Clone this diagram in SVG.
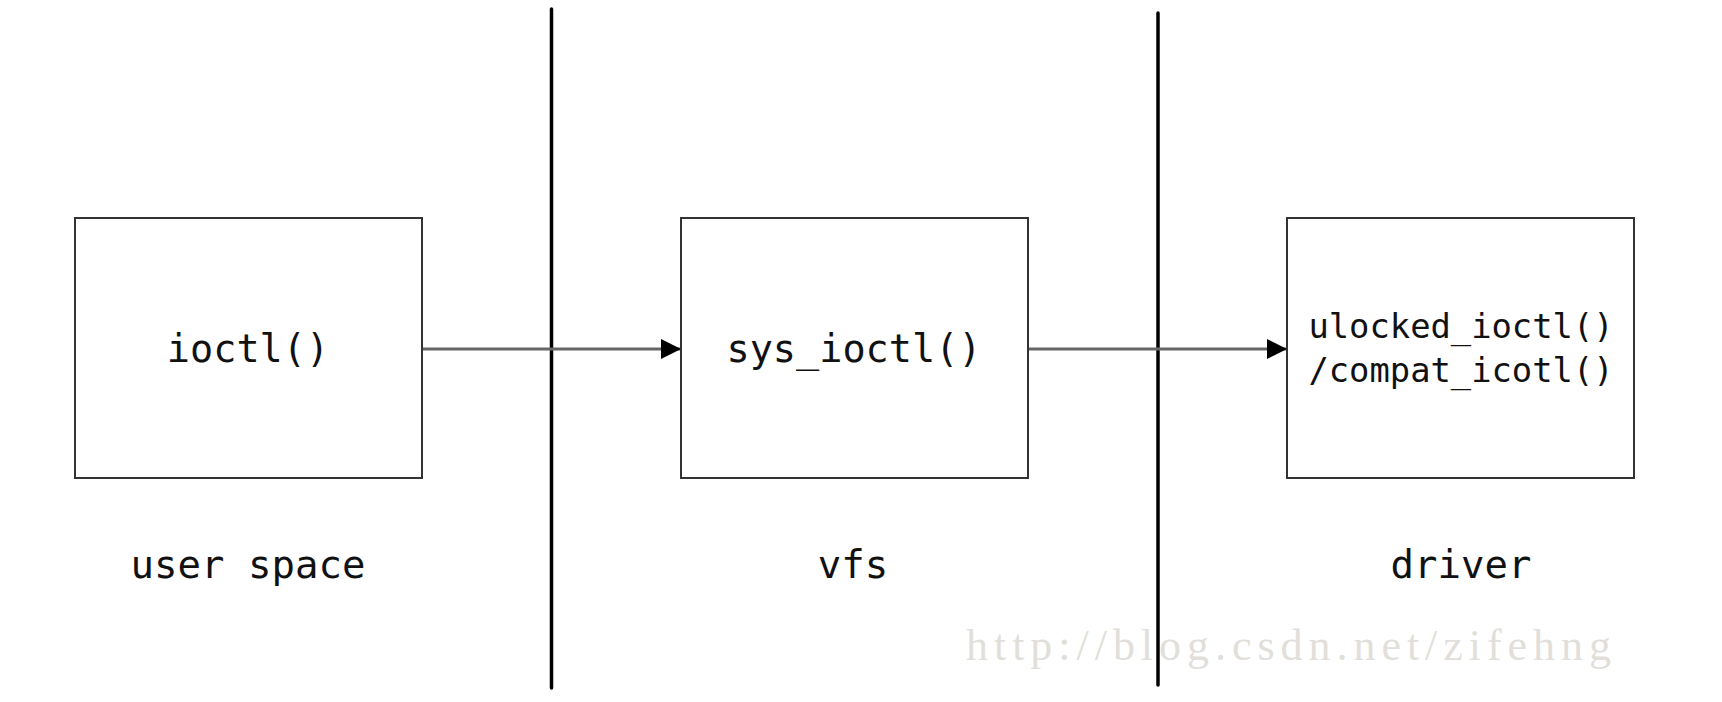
<svg xmlns="http://www.w3.org/2000/svg" width="1722" height="702" viewBox="0 0 1722 702">
<style>
.box{fill:#fff;stroke:#333;stroke-width:2}
.t{font-family:"DejaVu Sans Mono","Liberation Mono",monospace;fill:#111;text-anchor:middle}
.sep{stroke:#000;stroke-width:3.5;stroke-linecap:round}
.conn{stroke:#666;stroke-width:3;fill:none}
.wm{font-family:"Liberation Serif",serif;fill:#e2dfda;font-size:44px}
</style>
<defs>
<marker id="arr" markerUnits="userSpaceOnUse" markerWidth="22" markerHeight="22" refX="20" refY="10" orient="auto">
<path d="M0,0 L20,10 L0,20 Z" fill="#000"/>
</marker>
</defs>
<rect width="1722" height="702" fill="#fff"/>
<g id="separators">
<line class="sep" x1="551.5" y1="9" x2="551.5" y2="688"/>
<line class="sep" x1="1158" y1="13" x2="1158" y2="685"/>
</g>
<g id="connectors">
<line class="conn" x1="422" y1="349" x2="681" y2="349" marker-end="url(#arr)"/>
<line class="conn" x1="1028" y1="349" x2="1287" y2="349" marker-end="url(#arr)"/>
</g>
<g id="node-ioctl">
<rect class="box" x="75" y="218" width="347" height="260"/>
<text class="t" x="248" y="362" font-size="38.5">ioctl()</text>
</g>
<g id="node-sys_ioctl">
<rect class="box" x="681" y="218" width="347" height="260"/>
<text class="t" x="854" y="362" font-size="38.5">sys_ioctl()</text>
</g>
<g id="node-driver">
<rect class="box" x="1287" y="218" width="347" height="260"/>
<text class="t" x="1461" y="338" font-size="33.8">ulocked_ioctl()</text>
<text class="t" x="1461" y="382" font-size="33.8">/compat_icotl()</text>
</g>
<g id="labels">
<text class="t" x="248" y="578" font-size="39">user space</text>
<text class="t" x="853" y="578" font-size="39">vfs</text>
<text class="t" x="1461" y="578" font-size="39">driver</text>
</g>
<text class="wm" x="966" y="660" textLength="645" lengthAdjust="spacing">http://blog.csdn.net/zifehng</text>
</svg>
